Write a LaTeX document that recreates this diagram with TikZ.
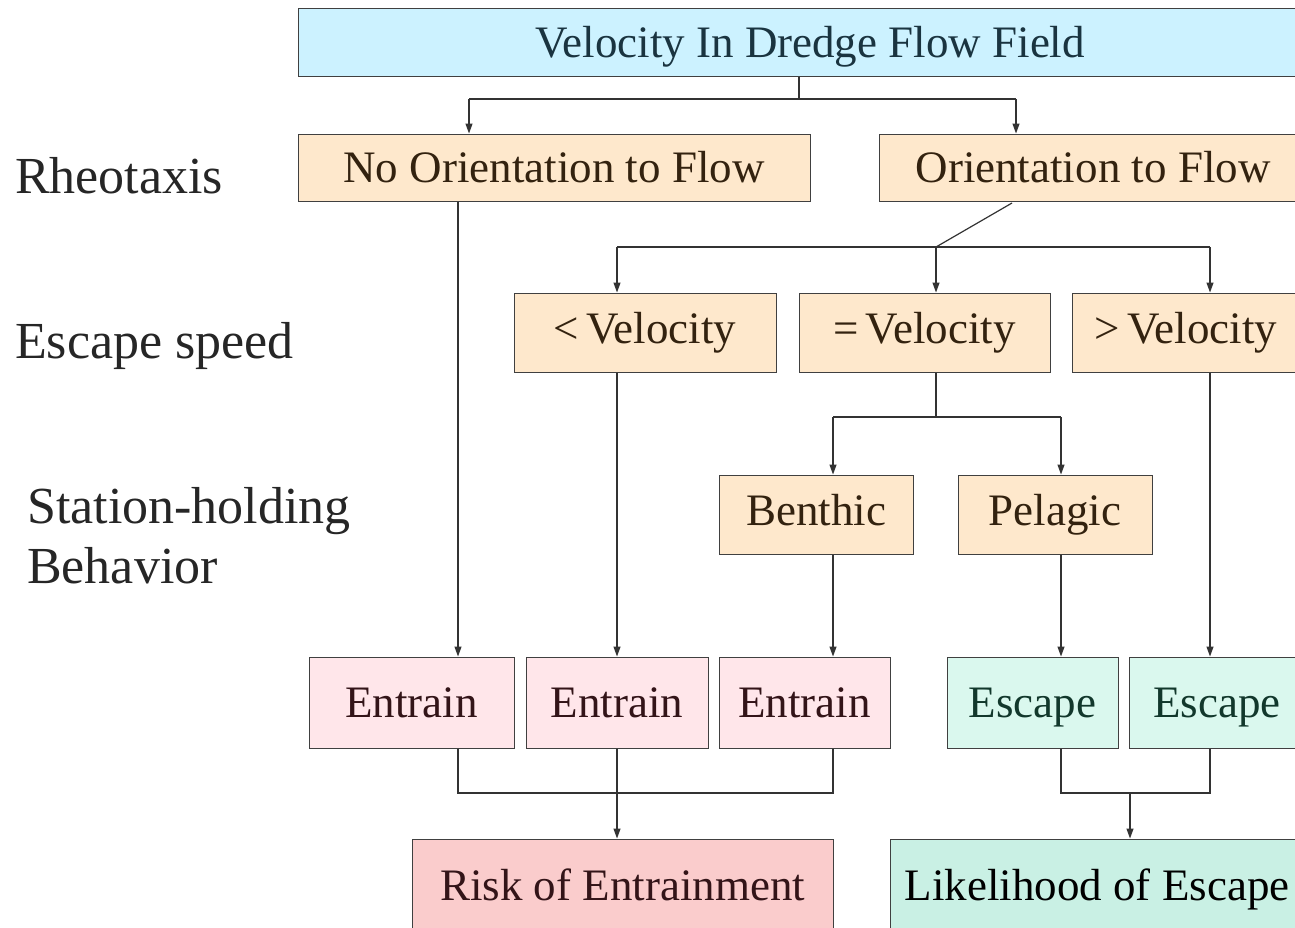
\documentclass[tikz,border=0pt]{standalone}
\usepackage{fontspec}
\setmainfont{LiberationSerif}[Extension=.ttf,UprightFont=*-Regular,BoldFont=*-Bold]
\usetikzlibrary{arrows.meta}
\definecolor{topc}{HTML}{CCF2FF}
\definecolor{peach}{HTML}{FEE8CC}
\definecolor{pinkc}{HTML}{FFE6EA}
\definecolor{mintc}{HTML}{DAF8EE}
\definecolor{riskc}{HTML}{FACCCC}
\definecolor{likec}{HTML}{C9F0E4}
\definecolor{ttop}{HTML}{1A3440}
\definecolor{tpeach}{HTML}{33220F}
\definecolor{tpink}{HTML}{331418}
\definecolor{tmint}{HTML}{12382C}
\tikzset{
  x=1pt,y=-1pt,
  boxs/.style={draw=black!75,line width=1pt,inner sep=0pt,font=\fontsize{45}{50}\selectfont,text height=31.5pt,text depth=1pt},
  midb/.style={text depth=10pt},
  lab/.style={anchor=west,inner sep=0pt,font=\fontsize{52}{62}\selectfont,text=black!85,align=left},
  conn/.style={draw=black!80,line width=1.2pt},
  arr/.style={conn,-{Triangle[length=10pt,width=7pt]}}
}
\begin{document}
\begin{tikzpicture}
\useasboundingbox[fill=white] (0,0) rectangle (1295,927);
% boxes
\node[boxs,fill=topc,text=ttop,minimum width=1024,minimum height=68] (top) at (810,42) {Velocity In Dredge Flow Field};
\node[boxs,fill=peach,text=tpeach,minimum width=512,minimum height=67] (noo) at (554,167.5) {No Orientation to Flow};
\node[boxs,fill=peach,text=tpeach,minimum width=428,minimum height=67] (ori) at (1093,167.5) {Orientation to Flow};
\node[boxs,midb,fill=peach,text=tpeach,minimum width=262,minimum height=79] (lv) at (645,332.5) {<\,Velocity};
\node[boxs,midb,fill=peach,text=tpeach,minimum width=251,minimum height=79] (ev) at (924.5,332.5) {=\,Velocity};
\node[boxs,midb,fill=peach,text=tpeach,minimum width=228,minimum height=79] (gv) at (1186,332.5) {>\,Velocity};
\node[boxs,midb,fill=peach,text=tpeach,minimum width=194,minimum height=79] (ben) at (816,514.5) {Benthic};
\node[boxs,midb,fill=peach,text=tpeach,minimum width=194,minimum height=79] (pel) at (1055,514.5) {Pelagic};
\node[boxs,fill=pinkc,text=tpink,minimum width=205,minimum height=91] (e1) at (411.5,702.5) {Entrain};
\node[boxs,fill=pinkc,text=tpink,minimum width=182,minimum height=91] (e2) at (617,702.5) {Entrain};
\node[boxs,fill=pinkc,text=tpink,minimum width=171,minimum height=91] (e3) at (804.5,702.5) {Entrain};
\node[boxs,fill=mintc,text=tmint,minimum width=171,minimum height=91] (s1) at (1032.5,702.5) {Escape};
\node[boxs,fill=mintc,text=tmint,minimum width=176,minimum height=91] (s2) at (1217,702.5) {Escape};
\node[boxs,fill=riskc,text=tpink,minimum width=421,minimum height=92] (risk) at (622.5,885) {Risk of Entrainment};
\node[boxs,fill=likec,text=black,minimum width=414,minimum height=92] (like) at (1097,885) {Likelihood of Escape};
% labels
\node[lab] (l1) at (15,176) {Rheotaxis};
\node[lab] (l2) at (15,346) {Escape speed};
\node[lab] (l3) at (27,536) {Station-holding\\[-2pt]Behavior};
% coordinates
\coordinate (t0) at (799,99);
\coordinate (tl) at (469,99);
\coordinate (tr) at (1016,99);
\coordinate (o1) at (1012,203);
\coordinate (o2) at (936,247);
\coordinate (ol) at (617,247);
\coordinate (or) at (1210,247);
\coordinate (q0) at (936,417);
\coordinate (ql) at (833,417);
\coordinate (qr) at (1061,417);
\coordinate (b1) at (458,793);
\coordinate (b2) at (833,793);
\coordinate (c1) at (1061,793);
\coordinate (c2) at (1210,793);
\coordinate (cm) at (1130,793);
% connectors
\draw[conn] (top.south -| t0) -- (t0);
\draw[conn] (tl) -- (tr);
\draw[arr] (tl) -- (noo.north -| tl);
\draw[arr] (tr) -- (ori.north -| tr);
\draw[arr] (noo.south -| b1) -- (e1.north -| b1);
\draw[conn] (o1) -- (o2);
\draw[conn] (ol) -- (or);
\draw[arr] (ol) -- (lv.north -| ol);
\draw[arr] (o2) -- (ev.north -| o2);
\draw[arr] (or) -- (gv.north -| or);
\draw[arr] (lv.south -| ol) -- (e2.north -| ol);
\draw[conn] (ev.south -| q0) -- (q0);
\draw[conn] (ql) -- (qr);
\draw[arr] (ql) -- (ben.north -| ql);
\draw[arr] (qr) -- (pel.north -| qr);
\draw[arr] (gv.south -| or) -- (s2.north -| or);
\draw[arr] (ben.south -| ql) -- (e3.north -| ql);
\draw[arr] (pel.south -| qr) -- (s1.north -| qr);
\draw[conn] (e1.south -| b1) -- (b1) -- (b2) -- (e3.south -| b2);
\draw[arr] (e2.south) -- (risk.north -| e2.south);
\draw[conn] (s1.south -| c1) -- (c1) -- (c2) -- (s2.south -| c2);
\draw[arr] (cm) -- (like.north -| cm);
\end{tikzpicture}
\end{document}
